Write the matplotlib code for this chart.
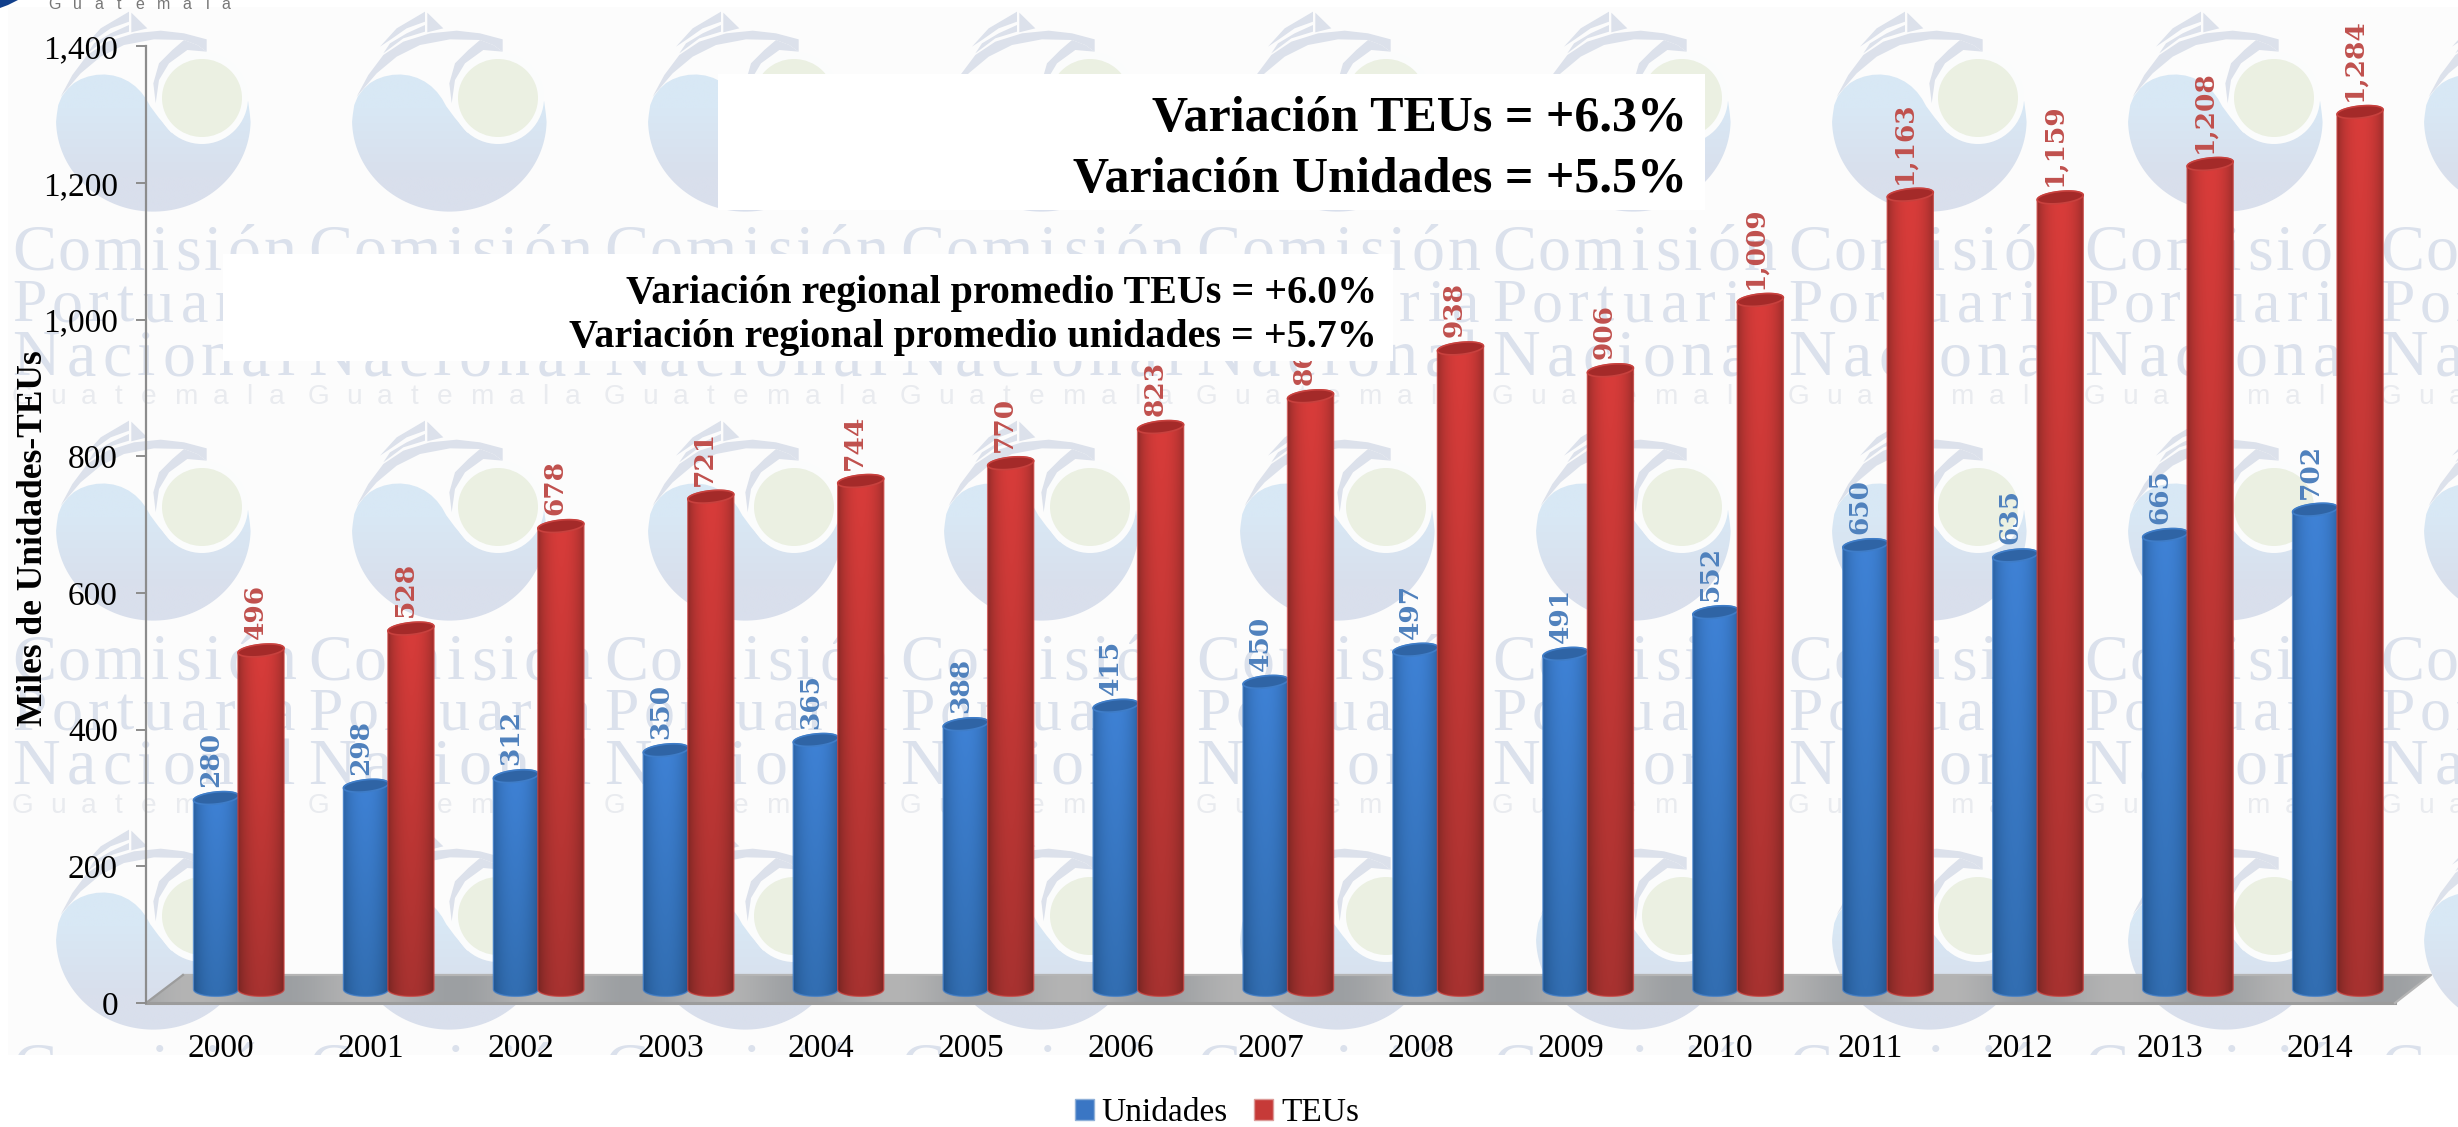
"""Unidades y TEUs por año, con marca de agua de la Comisión Portuaria Nacional."""

import numpy as np
import matplotlib
matplotlib.use("Agg")
import matplotlib.pyplot as plt
from matplotlib.colors import to_rgb
from matplotlib.font_manager import FontProperties
from matplotlib.patches import Ellipse, Patch, Polygon, Rectangle
from matplotlib.textpath import TextPath

years = [2000, 2001, 2002, 2003, 2004, 2005, 2006, 2007, 2008, 2009, 2010, 2011, 2012, 2013, 2014]
unidades = [280, 298, 312, 350, 365, 388, 415, 450, 497, 491, 552, 650, 635, 665, 702]
teus = [496, 528, 678, 721, 744, 770, 823, 868, 938, 906, 1009, 1163, 1159, 1208, 1284]
y_ticks = [0, 200, 400, 600, 800, 1000, 1200, 1400]

SERIF = "Liberation Serif"
SANS = "Liberation Sans"
W, H = 2458, 1127
PX = 0.72  # points per pixel at dpi 100

plt.rcParams["font.family"] = [SERIF, "DejaVu Serif"]
fig = plt.figure(figsize=(W / 100, H / 100), dpi=100, facecolor="white")


def chaikin(points, rounds=2):
    """Round off a closed polygon."""
    pts = np.array(points, dtype=float)
    for _ in range(rounds):
        nxt = np.roll(pts, -1, axis=0)
        pts = np.column_stack([0.75 * pts + 0.25 * nxt, 0.25 * pts + 0.75 * nxt]).reshape(-1, 2)
    return pts


def spaced_word(ax, word, x, y, width, px_size, color, family, zorder=3):
    """Write a word one letter at a time so it fills the given width."""
    prop = FontProperties(family=family)
    sizes = [TextPath((0, 0), ch, size=px_size, prop=prop).get_extents().width for ch in word]
    gap = (width - sum(sizes)) / len(word)
    pos = x
    for ch, size in zip(word, sizes):
        if pos < W:
            ax.text(pos, y, ch, fontsize=px_size * PX, color=color, family=family,
                    ha="left", va="baseline", zorder=zorder)
        pos += size + gap


def draw_logo(ax, ox, oy):
    """One watermark logo; shapes are written in a 660 box scaled by 3."""
    def place(points):
        return [(ox + px / 3, oy + py / 3) for px, py in points]

    arc = [(328 + 292 * np.cos(a), 360 + 275 * np.sin(a)) for a in np.linspace(0, np.pi, 40)]
    lobe = [(45, 300), (80, 255), (120, 232), (170, 222), (220, 228), (265, 250), (300, 285),
            (325, 330), (400, 420), (610, 285)]
    pts = chaikin(place(arc + lobe), 1)
    patch = Polygon(pts, closed=True, facecolor="none", edgecolor="none", zorder=1)
    ax.add_patch(patch)
    grad = np.array([[to_rgb("#d8e8f5")], [to_rgb("#d9dfec")]])
    im = ax.imshow(grad, extent=[ox, ox + 220, oy + 212, oy + 74], origin="upper",
                   aspect="auto", interpolation="bilinear", zorder=1)
    im.set_clip_path(patch)

    ax.add_patch(Ellipse((ox + 158, oy + 98), 92, 92, facecolor="#fbfcfc", edgecolor="none", zorder=2))
    ax.add_patch(Ellipse((ox + 158, oy + 98), 80, 78, facecolor="#ebf0e2", edgecolor="none", zorder=2))

    band = [(50, 290), (85, 225), (130, 165), (190, 125), (270, 100), (350, 92), (420, 100), (488, 118),
            (488, 155), (460, 135), (420, 120), (330, 118), (240, 135), (170, 170), (110, 220)]
    hook = [(420, 120), (460, 135), (488, 155), (430, 150), (375, 190), (345, 240), (335, 310),
            (328, 250), (345, 190), (385, 150)]
    hull = [(130, 160), (190, 115), (255, 95), (255, 75), (200, 100), (150, 130)]
    sail = [(120, 140), (170, 85), (255, 35), (255, 65), (200, 85), (150, 120)]
    flag = [(262, 38), (310, 85), (262, 97)]
    for shape in (band, hook, hull, sail, flag):
        ax.add_patch(Polygon(place(shape), closed=True, facecolor="#dce1eb", edgecolor="none", zorder=2))


# ---- background layer, in pixels ----
bg = fig.add_axes([0, 0, 1, 1], zorder=0)
bg.set_axis_off()
bg.add_patch(Rectangle((8, 7), W, 1048, facecolor="#fcfcfc", edgecolor="none", zorder=0))

for row in range(3):
    top = 409 * row
    for col in range(9):
        left = 296 * col
        draw_logo(bg, 44 + left, top)
        spaced_word(bg, "Comisión", 12 + left, 270 + top, 290, 66, "#dbe1ec", SERIF)
        spaced_word(bg, "Portuaria", 12 + left, 321 + top, 290, 62, "#dbe1ec", SERIF)
        spaced_word(bg, "Nacional", 12 + left, 375 + top, 290, 66, "#dbe1ec", SERIF)
        spaced_word(bg, "Guatemala", 12 + left, 404 + top, 290, 28, "#e9ebef", SANS)

# white margin under the watermark, plus the corner of the page logo
bg.add_patch(Rectangle((0, 1055), W, 72, facecolor="white", edgecolor="none", zorder=5))
bg.add_patch(Rectangle((0, 0), 8, 1055, facecolor="white", edgecolor="none", zorder=5))
bg.add_patch(Rectangle((0, 0), W, 7, facecolor="white", edgecolor="none", zorder=5))
bg.add_patch(Polygon([(0, 0), (18, 0), (8, 5), (0, 8)], closed=True, facecolor="#12408c",
                     edgecolor="none", zorder=6))
spaced_word(bg, "Guatemala", 48, 9, 196, 16, "#777777", SANS, zorder=6)
bg.set_xlim(0, W)
bg.set_ylim(H, 0)

# ---- chart ----
ax = fig.add_axes([146 / W, 1 - 1003 / H, (2395 - 146) / W, (1003 - 46.4) / H], zorder=2)
ax.patch.set_alpha(0)
y_px = (1003 - 46.4) / 1400  # pixels per data unit
x_px = 150.0

FLOOR = 41
BASE = 20
TOP_RY = 6 / y_px
BOTTOM_RY = 7 / y_px
TILT = 0.10 * x_px / y_px  # lid rise, data units per category

# floor of the 3D chart
floor_pts = [(-0.5, 0), (14.5, 0), (14.5 + 36 / x_px, FLOOR), (-0.5 + 37 / x_px, FLOOR)]
floor = Polygon(floor_pts, closed=True, facecolor="none", edgecolor="none", zorder=1, clip_on=False)
ax.add_patch(floor)
shade = np.linspace(0, 26 * np.pi, 400)
floor_mix = (0.5 + 0.5 * np.sin(shade))[None, :, None]
floor_img = floor_mix * np.array(to_rgb("#b4b4b4")) + (1 - floor_mix) * np.array(to_rgb("#9c9fa2"))
im = ax.imshow(floor_img, extent=[-0.5, 14.5 + 36 / x_px, 0, FLOOR], origin="lower",
               aspect="auto", interpolation="bilinear", zorder=1)
im.set_clip_path(floor)
im.set_clip_box(fig.bbox)
ax.plot([-0.5, 14.5], [0, 0], color="#9c9c9c", lw=2.2, zorder=1.5, clip_on=False)
ax.plot([-0.5 + 37 / x_px, 14.5 + 36 / x_px, 14.5], [FLOOR, FLOOR, 0], color="#b5b5b5", lw=1.6,
        zorder=1.5, clip_on=False)
ax.plot([-0.5, -0.5 + 37 / x_px], [0, FLOOR], color="#9c9c9c", lw=1.6, zorder=1.5, clip_on=False)


def cylinder(center, width, value, top_light, top_edge, low_light, low_edge, lid, rim, zorder):
    """Draw one cylinder: gradient body clipped to its outline, then the lid."""
    x0, x1 = center - width / 2, center + width / 2
    y0, y1 = BASE, BASE + value

    t = np.linspace(0, np.pi, 40)
    low_x = center - np.cos(t) * width / 2
    low_y = y0 - np.sin(t) * BOTTOM_RY
    up_x = center + np.cos(t) * width / 2
    up_y = y1 + np.sin(t) * TOP_RY + (up_x - center) * TILT
    outline = np.column_stack([np.r_[low_x, up_x], np.r_[low_y, up_y]])

    body = Polygon(outline, closed=True, facecolor="none", edgecolor=rim, lw=1.0, alpha=0.8, zorder=zorder + 0.1)
    ax.add_patch(body)

    u = np.linspace(0, 1, 64)
    h = np.sin(np.pi * u) ** 0.55
    v = np.linspace(0, 1, 32)[:, None, None]
    top_row = h[:, None] * np.array(to_rgb(top_light)) + (1 - h[:, None]) * np.array(to_rgb(top_edge))
    low_row = h[:, None] * np.array(to_rgb(low_light)) + (1 - h[:, None]) * np.array(to_rgb(low_edge))
    img = v * top_row[None, :, :] + (1 - v) * low_row[None, :, :]
    body_im = ax.imshow(img, extent=[x0, x1, y0 - BOTTOM_RY, y1 + TOP_RY * 2], origin="lower",
                        aspect="auto", interpolation="bilinear", zorder=zorder)
    body_im.set_clip_path(body)

    s = np.linspace(0, 2 * np.pi, 60)
    lid_x = center + np.cos(s) * width / 2
    lid_y = y1 + np.sin(s) * TOP_RY + (lid_x - center) * TILT
    ax.add_patch(Polygon(np.column_stack([lid_x, lid_y]), closed=True, facecolor=lid, edgecolor=rim,
                         lw=1.2, zorder=zorder + 0.2))


for i, value in enumerate(unidades):
    cylinder(i - 0.033, 0.30, value, "#3f82d6", "#2a5f9e", "#326eb2", "#1f4f85", "#2f64a5", "#3f7dc8", 3)
    ax.annotate(f"{value:,}", xy=(i - 0.033, BASE + value), xytext=(-3.6, 8), textcoords="offset points",
                rotation=90, ha="center", va="bottom", fontsize=19, fontweight="bold", family="DejaVu Serif",
                color="#4f81bd", zorder=6)
for i, value in enumerate(teus):
    cylinder(i + 0.267, 0.307, value, "#d93c3a", "#8c2a27", "#a83230", "#6e2320", "#a42a29", "#c8413e", 4)
    ax.annotate(f"{value:,}", xy=(i + 0.267, BASE + value), xytext=(-4.3, 8), textcoords="offset points",
                rotation=90, ha="center", va="bottom", fontsize=19, fontweight="bold", family="DejaVu Serif",
                color="#c0504d", zorder=6)

ax.set_xlim(-0.5, 14.5)
ax.set_ylim(0, 1400)
ax.set_xticks(range(len(years)))
ax.set_xticklabels([str(y) for y in years])
ax.set_yticks(y_ticks)
ax.set_yticklabels([f"{v:,}" for v in y_ticks])
ax.tick_params(axis="x", length=0, labelsize=24, pad=22)
ax.tick_params(axis="y", length=7.2, width=1.4, color="#8c8c8c", labelsize=24, pad=13)
for side in ("top", "right", "bottom"):
    ax.spines[side].set_visible(False)
ax.spines["left"].set_color("#8c8c8c")
ax.spines["left"].set_linewidth(1.6)
ax.set_ylabel("Miles de Unidades-TEUs", fontsize=25.5, fontweight="bold")
ax.yaxis.set_label_coords(-0.0425, 0.486)

handles = [Patch(facecolor="#3a76c4", edgecolor="#8fb0d8", label="Unidades"),
           Patch(facecolor="#c63a38", edgecolor="#dc9a98", label="TEUs")]
ax.legend(handles=handles, ncol=2, frameon=False, fontsize=24, loc="center",
          bbox_to_anchor=(1217 / W, 1 - 1113 / H), bbox_transform=fig.transFigure,
          handlelength=0.57, handleheight=0.57, handletextpad=0.24, columnspacing=0.8,
          borderpad=0, borderaxespad=0)

# ---- white boxes on top of everything, in pixels ----
over = fig.add_axes([0, 0, 1, 1], zorder=5)
over.set_axis_off()
over.patch.set_alpha(0)
over.add_patch(Rectangle((718, 74), 987, 136, facecolor="white", edgecolor="none"))
over.add_patch(Rectangle((223, 254), 1170, 107, facecolor="white", edgecolor="none"))
over.text(1687, 119, "Variación TEUs = +6.3%", fontsize=36, fontweight="bold", ha="right", va="center")
over.text(1687, 180, "Variación Unidades = +5.5%", fontsize=36, fontweight="bold", ha="right", va="center")
over.text(1377, 293, "Variación regional promedio TEUs = +6.0%", fontsize=28.8, fontweight="bold", ha="right", va="center")
over.text(1377, 337, "Variación regional promedio unidades = +5.7%", fontsize=28.8, fontweight="bold", ha="right", va="center")
over.set_xlim(0, W)
over.set_ylim(H, 0)

fig.savefig("out.png", dpi=100, facecolor="white")
